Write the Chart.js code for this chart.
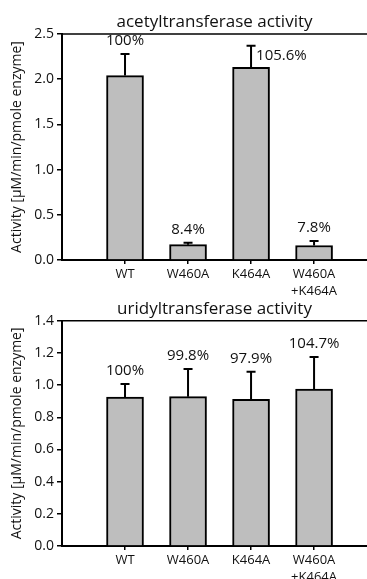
<!DOCTYPE html>
<html>
<head>
<meta charset="utf-8">
<script src="https://cdn.jsdelivr.net/npm/chart.js@4/dist/chart.umd.min.js"></script>
<style>
  html, body { margin: 0; padding: 0; background: #fff; }
  body { position: relative; width: 367px; height: 579px; overflow: hidden; }
  canvas { display: block; position: absolute; left: 0; }
  #acetyl { top: 0; }
  #uridyl { top: 290px; }
</style>
</head>
<body>
<canvas id="acetyl" width="367" height="300"></canvas>
<canvas id="uridyl" width="367" height="289"></canvas>
<script>
// Enzyme variants and their slot on the x axis
const categories = ['WT', 'W460A', 'K464A', ['W460A', '+K464A']];
const slots = [1, 2, 3, 4];

// Acetyltransferase activity (µM/min/pmole enzyme), mean and upper error
const acetylValues = [2.04, 0.17, 2.13, 0.16];
const acetylErrors = [0.24, 0.02, 0.24, 0.05];
const acetylLabels = ['100%', '8.4%', '105.6%', '7.8%'];
const acetylTicks = [0, 0.5, 1.0, 1.5, 2.0, 2.5];

// Uridyltransferase activity (µM/min/pmole enzyme), mean and upper error
const uridylValues = [0.925, 0.928, 0.912, 0.975];
const uridylErrors = [0.082, 0.172, 0.171, 0.20];
const uridylLabels = ['100%', '99.8%', '97.9%', '104.7%'];
const uridylTicks = [0, 0.2, 0.4, 0.6, 0.8, 1.0, 1.2, 1.4];

const FONT = '"Open Sans", "Noto Sans", sans-serif';
const INK = '#111';
Chart.defaults.font.family = FONT;
Chart.defaults.color = INK;

// Upper error whiskers, percentage labels and the top frame line
const annotate = {
  id: 'annotate',
  afterDatasetsDraw(chart, args, opts) {
    const { ctx, chartArea } = chart;
    const y = chart.scales.y;
    const meta = chart.getDatasetMeta(0);
    ctx.save();
    // frame line along the top of the plot
    ctx.strokeStyle = '#000';
    ctx.lineWidth = 1.5;
    ctx.beginPath();
    ctx.moveTo(chartArea.left, chartArea.top);
    ctx.lineTo(chartArea.right, chartArea.top);
    ctx.stroke();

    ctx.lineWidth = 2;
    ctx.font = '15px ' + FONT;
    ctx.fillStyle = INK;
    meta.data.forEach((bar, i) => {
      const v = opts.values[i];
      const top = y.getPixelForValue(v + opts.errors[i]);
      const base = y.getPixelForValue(v);
      ctx.beginPath();
      ctx.moveTo(bar.x, base);
      ctx.lineTo(bar.x, top);
      ctx.moveTo(bar.x - 4.5, top);
      ctx.lineTo(bar.x + 4.5, top);
      ctx.stroke();
      ctx.textBaseline = 'middle';
      if (opts.side[i] === 'right') {
        ctx.textAlign = 'left';
        ctx.fillText(opts.labels[i], bar.x + 5, top + 10);
      } else {
        ctx.textAlign = 'center';
        ctx.fillText(opts.labels[i], bar.x, top - 13);
      }
    });
    ctx.restore();
  }
};

function makeChart(id, title, values, errors, labels, yTicks, sizes) {
  const yMax = yTicks[yTicks.length - 1];
  return new Chart(document.getElementById(id), {
    type: 'bar',
    data: {
      datasets: [{
        data: slots.map((x, i) => ({ x, y: values[i] })),
        backgroundColor: '#bebebe',
        borderColor: '#000',
        borderWidth: 2,
        borderSkipped: 'start',
        barThickness: 37
      }]
    },
    options: {
      responsive: false,
      animation: false,
      devicePixelRatio: 1,
      layout: { padding: 0 },
      plugins: {
        legend: { display: false },
        tooltip: { enabled: false },
        title: {
          display: true,
          text: title,
          fullSize: false,
          color: INK,
          font: { size: 17, weight: 'normal', lineHeight: 1.2 },
          padding: sizes.titlePad
        },
        annotate: {
          values, errors, labels,
          side: labels.map((_, i) => (id === 'acetyl' && i === 2) ? 'right' : 'above')
        }
      },
      scales: {
        x: {
          type: 'linear',
          min: 0,
          max: 4.84,
          offset: false,
          afterFit(scale) { scale.height = sizes.xHeight; },
          afterBuildTicks(scale) { scale.ticks = slots.map(v => ({ value: v })); },
          grid: { display: true, offset: false, drawOnChartArea: false, drawTicks: true, tickLength: 4, color: '#000', lineWidth: 1.5 },
          border: { display: true, color: '#000', width: 2 },
          ticks: {
            autoSkip: false,
            maxRotation: 0,
            padding: 2,
            color: INK,
            font: { size: 13, lineHeight: 1.3 },
            callback: (v) => categories[slots.indexOf(v)]
          }
        },
        y: {
          min: 0,
          max: yMax,
          afterFit(scale) { scale.width = 62; },
          afterBuildTicks(scale) { scale.ticks = yTicks.map(v => ({ value: v })); },
          grid: { display: true, drawOnChartArea: false, drawTicks: true, tickLength: 5, color: '#000', lineWidth: 1.5 },
          border: { display: true, color: '#000', width: 2 },
          ticks: {
            padding: 3,
            color: INK,
            font: { size: 14 },
            callback: (v) => v.toFixed(1)
          },
          title: {
            display: true,
            text: 'Activity [µM/min/pmole enzyme]',
            color: INK,
            font: { size: 14, lineHeight: 1.2 },
            padding: { top: 9, bottom: 0 }
          }
        }
      }
    },
    plugins: [annotate]
  });
}

makeChart('acetyl', 'acetyltransferase activity', acetylValues, acetylErrors, acetylLabels, acetylTicks,
  { titlePad: { top: 12, bottom: 1.6 }, xHeight: 40 });
makeChart('uridyl', 'uridyltransferase activity', uridylValues, uridylErrors, uridylLabels, uridylTicks,
  { titlePad: { top: 9, bottom: 1.3 }, xHeight: 43 - 10 });
</script>
</body>
</html>
